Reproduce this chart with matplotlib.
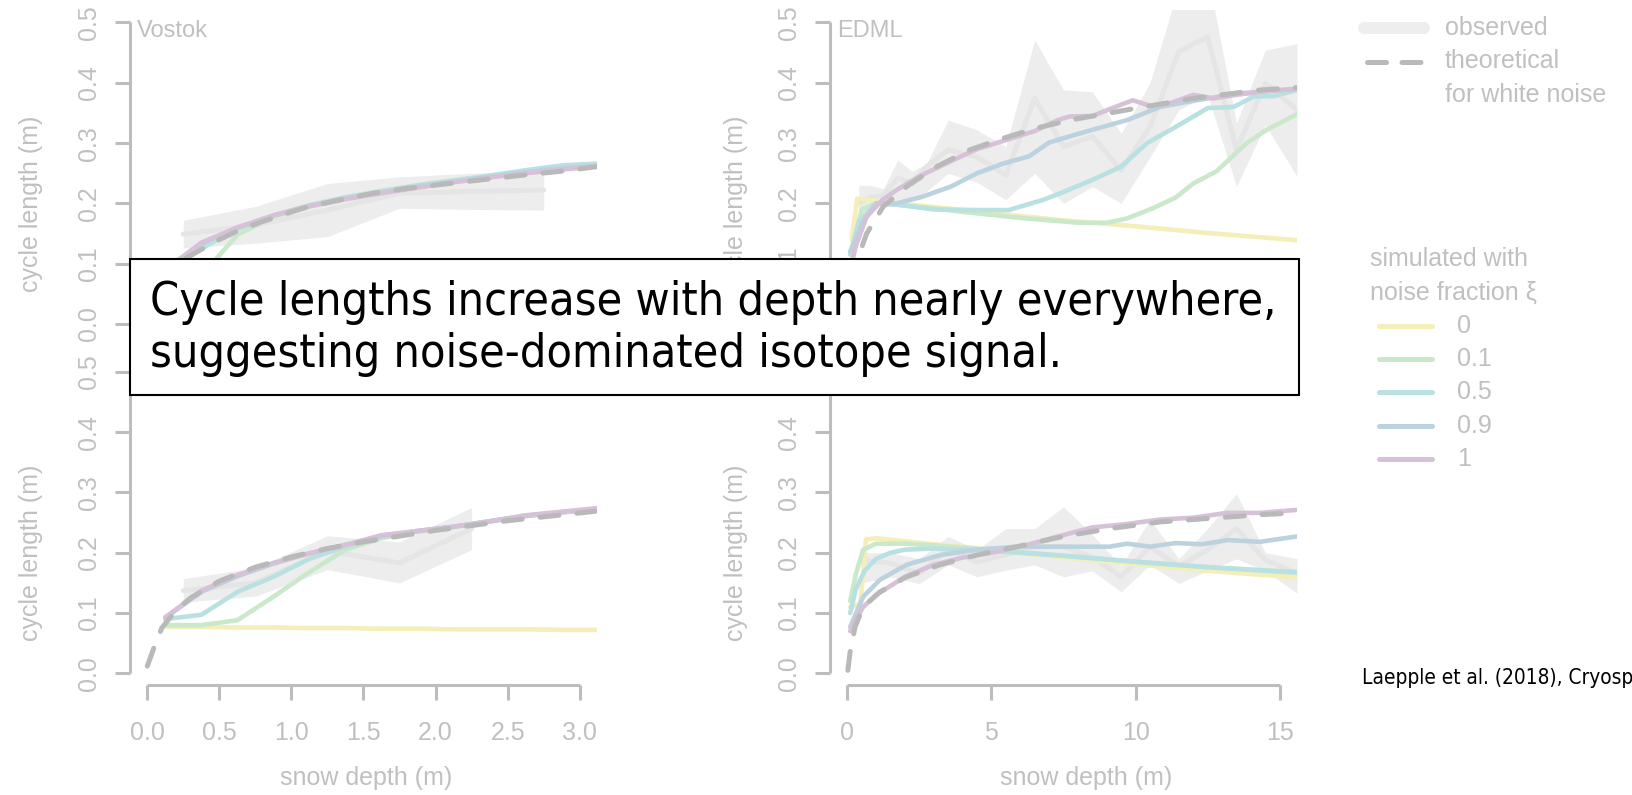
import os
import matplotlib
matplotlib.use("Agg")
import matplotlib.pyplot as plt
from matplotlib import font_manager, transforms
from matplotlib.font_manager import FontProperties
from matplotlib.patches import Rectangle
from matplotlib.lines import Line2D

# ---------------------------------------------------------------- data
noise_fractions = ["0", "0.1", "0.5", "0.9", "1"]

# Vostok, upper panel
vostok_top_obs_depth = [0.25, 0.75, 1.25, 1.75, 2.25, 2.75]
vostok_top_obs_mean = [0.149, 0.164, 0.189, 0.217, 0.220, 0.222]
vostok_top_obs_lo = [0.126, 0.134, 0.145, 0.192, 0.190, 0.189]
vostok_top_obs_hi = [0.172, 0.195, 0.233, 0.244, 0.250, 0.253]
vostok_top_theo_depth = [0.0, 0.05, 0.1, 0.2, 0.34, 0.5, 0.64, 0.8, 1.08, 1.3, 1.57, 1.8, 2.1, 2.35, 2.61, 2.9, 3.12]
vostok_top_theo_len = [0.010, 0.045, 0.072, 0.100, 0.119, 0.140, 0.156, 0.170, 0.192, 0.204, 0.217, 0.225, 0.233, 0.240, 0.247, 0.254, 0.261]
vostok_sim_depth = [0.125, 0.375, 0.625, 0.875, 1.125, 1.375, 1.625, 1.875, 2.125, 2.375, 2.625, 2.875, 3.125]
vostok_top_sim_xi0 = [0.074, 0.074, 0.074, 0.074, 0.073, 0.073, 0.073, 0.073, 0.072, 0.072, 0.072, 0.072, 0.072]
vostok_top_sim_xi01 = [0.072, 0.080, 0.148, 0.178, 0.196, 0.210, 0.221, 0.230, 0.238, 0.246, 0.254, 0.261, 0.265]
vostok_top_sim_xi05 = [0.085, 0.125, 0.158, 0.180, 0.197, 0.210, 0.220, 0.230, 0.238, 0.246, 0.255, 0.263, 0.266]
vostok_top_sim_xi09 = [0.088, 0.133, 0.160, 0.180, 0.196, 0.208, 0.218, 0.228, 0.236, 0.244, 0.252, 0.258, 0.263]
vostok_top_sim_xi1 = [0.090, 0.135, 0.160, 0.180, 0.195, 0.207, 0.217, 0.226, 0.235, 0.243, 0.250, 0.256, 0.262]

# Vostok, lower panel
vostok_bot_obs_depth = [0.25, 0.75, 1.25, 1.75, 2.25]
vostok_bot_obs_mean = [0.137, 0.150, 0.203, 0.183, 0.240]
vostok_bot_obs_lo = [0.118, 0.128, 0.172, 0.150, 0.205]
vostok_bot_obs_hi = [0.157, 0.175, 0.228, 0.218, 0.275]
vostok_bot_theo_depth = [0.0, 0.05, 0.1, 0.2, 0.3, 0.5, 0.75, 1.0, 1.25, 1.5, 2.0, 2.5, 3.12]
vostok_bot_theo_len = [0.012, 0.045, 0.075, 0.105, 0.125, 0.153, 0.176, 0.193, 0.207, 0.218, 0.237, 0.253, 0.269]
vostok_bot_sim_xi0 = [0.077, 0.077, 0.076, 0.076, 0.075, 0.075, 0.074, 0.074, 0.073, 0.073, 0.073, 0.072, 0.072]
vostok_bot_sim_xi01 = [0.080, 0.080, 0.088, 0.127, 0.168, 0.205, 0.224, 0.235, 0.243, 0.252, 0.261, 0.267, 0.272]
vostok_bot_sim_xi05 = [0.090, 0.097, 0.135, 0.160, 0.190, 0.210, 0.226, 0.236, 0.243, 0.252, 0.261, 0.267, 0.272]
vostok_bot_sim_xi09 = [0.092, 0.135, 0.161, 0.182, 0.199, 0.213, 0.228, 0.236, 0.243, 0.252, 0.261, 0.267, 0.273]
vostok_bot_sim_xi1 = [0.093, 0.137, 0.163, 0.183, 0.199, 0.213, 0.229, 0.236, 0.243, 0.252, 0.262, 0.268, 0.274]

# EDML, upper panel
edml_top_obs_depth = [0.4, 0.8, 1.25, 1.75, 2.25, 2.75, 3.5, 4.5, 5.5, 6.5, 7.5, 8.5, 9.5, 10.5, 11.5, 12.5, 13.5, 14.5, 15.6]
edml_top_obs_mean = [0.200, 0.210, 0.213, 0.242, 0.233, 0.261, 0.289, 0.277, 0.247, 0.374, 0.294, 0.311, 0.255, 0.327, 0.452, 0.476, 0.289, 0.399, 0.355]
edml_top_obs_lo = [0.150, 0.185, 0.200, 0.206, 0.206, 0.220, 0.250, 0.235, 0.206, 0.250, 0.200, 0.228, 0.200, 0.277, 0.355, 0.380, 0.228, 0.330, 0.245]
edml_top_obs_hi = [0.230, 0.230, 0.224, 0.272, 0.253, 0.266, 0.338, 0.322, 0.294, 0.471, 0.388, 0.385, 0.316, 0.400, 0.560, 0.580, 0.333, 0.454, 0.465]
edml_top_theo_depth = [0.05, 0.1, 0.3, 0.67, 1.25, 2.06, 3.1, 4.26, 5.41, 6.57, 7.72, 9.69, 12.0, 14.31, 15.6]
edml_top_theo_len = [0.010, 0.040, 0.100, 0.150, 0.195, 0.228, 0.261, 0.289, 0.308, 0.325, 0.338, 0.355, 0.374, 0.388, 0.392]
edml_top_sim_xi0_depth = [0.15, 0.35, 1.0, 3.0, 5.0, 7.5, 10.0, 12.5, 15.6]
edml_top_sim_xi0 = [0.140, 0.208, 0.204, 0.194, 0.184, 0.172, 0.162, 0.151, 0.139]
edml_top_sim_xi01_depth = [0.15, 0.5, 1.0, 2.0, 4.0, 6.0, 8.0, 9.0, 9.7, 10.6, 11.4, 12.0, 12.8, 13.85, 14.55, 15.6]
edml_top_sim_xi01 = [0.120, 0.190, 0.200, 0.197, 0.186, 0.176, 0.168, 0.168, 0.175, 0.192, 0.210, 0.233, 0.253, 0.300, 0.322, 0.348]
edml_top_sim_xi05_depth = [0.1, 0.4, 1.0, 1.7, 3.0, 4.5, 5.6, 6.8, 7.4, 8.5, 9.5, 10.4, 11.4, 12.5, 13.4, 14.1, 14.8, 15.6]
edml_top_sim_xi05 = [0.115, 0.170, 0.200, 0.198, 0.190, 0.189, 0.189, 0.206, 0.217, 0.239, 0.261, 0.300, 0.327, 0.358, 0.360, 0.377, 0.378, 0.388]
edml_top_sim_xi09_depth = [0.1, 0.55, 1.0, 1.7, 2.6, 3.6, 4.5, 5.4, 6.3, 7.0, 7.7, 8.5, 9.7, 10.85, 12.0, 13.5, 15.6]
edml_top_sim_xi09 = [0.120, 0.170, 0.200, 0.200, 0.211, 0.228, 0.250, 0.266, 0.278, 0.301, 0.311, 0.322, 0.338, 0.360, 0.370, 0.382, 0.390]
edml_top_sim_xi1_depth = [0.1, 0.3, 0.67, 1.2, 1.7, 2.5, 3.5, 4.5, 5.5, 6.5, 7.3, 7.7, 8.5, 9.3, 9.9, 10.5, 11.2, 12.0, 12.7, 13.5, 14.3, 15.6]
edml_top_sim_xi1 = [0.090, 0.130, 0.178, 0.205, 0.222, 0.245, 0.268, 0.290, 0.305, 0.320, 0.338, 0.344, 0.345, 0.360, 0.371, 0.362, 0.366, 0.380, 0.374, 0.380, 0.385, 0.390]

# EDML, lower panel
edml_bot_obs_depth = [0.5, 1.5, 2.5, 3.5, 4.5, 5.5, 6.5, 7.5, 8.5, 9.5, 10.5, 11.5, 12.5, 13.5, 14.5, 15.6]
edml_bot_obs_mean = [0.187, 0.183, 0.166, 0.205, 0.185, 0.197, 0.210, 0.210, 0.193, 0.160, 0.210, 0.177, 0.205, 0.240, 0.188, 0.166]
edml_bot_obs_lo = [0.150, 0.160, 0.149, 0.180, 0.160, 0.171, 0.180, 0.160, 0.170, 0.135, 0.180, 0.149, 0.170, 0.190, 0.170, 0.133]
edml_bot_obs_hi = [0.200, 0.200, 0.190, 0.227, 0.205, 0.240, 0.240, 0.276, 0.230, 0.178, 0.255, 0.190, 0.240, 0.298, 0.200, 0.190]
edml_bot_theo_depth = [0.02, 0.09, 0.27, 0.55, 1.13, 2.06, 3.22, 4.49, 5.88, 7.49, 9.11, 10.85, 12.58, 14.31, 15.6]
edml_bot_theo_len = [0.005, 0.033, 0.077, 0.110, 0.135, 0.160, 0.180, 0.196, 0.210, 0.227, 0.240, 0.251, 0.257, 0.263, 0.266]
edml_bot_sim_xi0_depth = [0.1, 0.45, 0.65, 1.0, 3.0, 5.0, 7.5, 10.0, 12.5, 15.6]
edml_bot_sim_xi0 = [0.110, 0.115, 0.222, 0.224, 0.214, 0.205, 0.192, 0.181, 0.170, 0.159]
edml_bot_sim_xi01_depth = [0.1, 0.3, 0.55, 1.0, 2.0, 3.0, 5.0, 7.5, 10.0, 12.5, 15.6]
edml_bot_sim_xi01 = [0.120, 0.165, 0.205, 0.215, 0.215, 0.212, 0.205, 0.195, 0.185, 0.176, 0.168]
edml_bot_sim_xi05_depth = [0.1, 0.3, 0.6, 1.0, 1.5, 2.0, 3.0, 5.0, 7.5, 10.0, 12.5, 15.6]
edml_bot_sim_xi05 = [0.100, 0.140, 0.170, 0.190, 0.200, 0.205, 0.207, 0.203, 0.195, 0.185, 0.176, 0.167]
edml_bot_sim_xi09_depth = [0.1, 0.55, 1.13, 2.06, 3.22, 4.49, 5.88, 7.4, 9.1, 9.7, 10.5, 11.4, 12.3, 13.2, 14.3, 15.6]
edml_bot_sim_xi09 = [0.077, 0.127, 0.155, 0.180, 0.196, 0.205, 0.210, 0.210, 0.210, 0.215, 0.210, 0.216, 0.214, 0.221, 0.218, 0.227]
edml_bot_sim_xi1_depth = [0.1, 0.3, 0.55, 1.0, 2.0, 3.0, 4.0, 5.0, 6.0, 7.4, 8.5, 9.6, 10.85, 12.0, 13.16, 14.3, 15.6]
edml_bot_sim_xi1 = [0.070, 0.090, 0.110, 0.130, 0.160, 0.180, 0.192, 0.200, 0.210, 0.228, 0.242, 0.247, 0.255, 0.258, 0.266, 0.266, 0.271]

vostok_ticks = [0.0, 0.5, 1.0, 1.5, 2.0, 2.5, 3.0]
vostok_ticklabels = ["0.0", "0.5", "1.0", "1.5", "2.0", "2.5", "3.0"]
edml_ticks = [0, 5, 10, 15]
edml_ticklabels = ["0", "5", "10", "15"]
length_ticks = [0.0, 0.1, 0.2, 0.3, 0.4, 0.5]
length_ticklabels = ["0.0", "0.1", "0.2", "0.3", "0.4", "0.5"]

# ---------------------------------------------------------------- style
W, H = 1633, 795
GRAY = "#bdbdbd"
TXT = "#c0c0c0"
BAND = "#ededed"
OBS_LINE = "#e5e5e5"
THEO = "#b9b9b9"
SIM_COLORS = ["#f4eeb8", "#c9e9ca", "#b9e1e1", "#bcd2df", "#d7c1d8"]
SANS = ["Liberation Sans", "DejaVu Sans"]

plt.rcParams["font.family"] = SANS
fig = plt.figure(figsize=(W / 100, H / 100), dpi=100)
fig.patch.set_facecolor("white")


def px_axes(left, top, width, height, **kw):
    return fig.add_axes([left / W, 1 - (top + height) / H, width / W, height / H], **kw)


def style_axes(ax, xlim, xticks, xticklabels, show_xlabels, hidden_ylabels):
    ax.set_xlim(*xlim)
    ax.set_ylim(-0.02, 0.52)
    ax.patch.set_visible(False)
    for s in ("top", "right"):
        ax.spines[s].set_visible(False)
    for s in ("left", "bottom"):
        ax.spines[s].set_color(GRAY)
        ax.spines[s].set_linewidth(2.2)
        ax.spines[s].set_capstyle("butt")
    ax.spines["left"].set_bounds(0, 0.5)
    ax.spines["bottom"].set_bounds(xticks[0], xticks[-1])
    ax.set_xticks(xticks)
    ax.set_xticklabels(xticklabels if show_xlabels else [""] * len(xticks))
    ax.set_yticks(length_ticks)
    ax.set_yticklabels([("" if lab in hidden_ylabels else lab) for lab in length_ticklabels])
    ax.tick_params(direction="out", length=10.8, width=2.2, color=GRAY,
                   labelcolor=TXT, labelsize=18)
    ax.tick_params(axis="x", pad=15)
    ax.tick_params(axis="y", pad=10, labelrotation=90)
    for lab in ax.get_yticklabels():
        lab.set_verticalalignment("center")


def draw_panel(ax, obs, theo, sims):
    d, m, lo, hi = obs
    ax.fill_between(d, lo, hi, color=BAND, lw=0, zorder=1)
    ax.plot(d, m, color=OBS_LINE, lw=3.6, solid_capstyle="round",
            solid_joinstyle="round", zorder=2)
    for (sd, sv), c in zip(sims, SIM_COLORS):
        ax.plot(sd, sv, color=c, lw=3.3, solid_capstyle="round",
                solid_joinstyle="round", zorder=3)
    ax.plot(theo[0], theo[1], color=THEO, lw=3.6, dashes=(3.8, 3.6),
            dash_capstyle="round", zorder=4)


AX_W, AX_H = 467, 325.7
LEFT_X, RIGHT_X = 130, 830
TOP_Y, BOT_Y = 10.4, 359.7

# labels that sit entirely beneath the annotation box are left blank
panels = [
    dict(pos=(LEFT_X, TOP_Y), xlim=(-0.12, 3.12), ticks=vostok_ticks, labels=vostok_ticklabels,
         obs=(vostok_top_obs_depth, vostok_top_obs_mean, vostok_top_obs_lo, vostok_top_obs_hi),
         theo=(vostok_top_theo_depth, vostok_top_theo_len),
         sims=[(vostok_sim_depth, vostok_top_sim_xi0), (vostok_sim_depth, vostok_top_sim_xi01),
               (vostok_sim_depth, vostok_top_sim_xi05), (vostok_sim_depth, vostok_top_sim_xi09),
               (vostok_sim_depth, vostok_top_sim_xi1)],
         title="Vostok", xlab_x=0.505, ylab_x=-0.212, bottom_row=False, hidden=()),
    dict(pos=(RIGHT_X, TOP_Y), xlim=(-0.6, 15.6), ticks=edml_ticks, labels=edml_ticklabels,
         obs=(edml_top_obs_depth, edml_top_obs_mean, edml_top_obs_lo, edml_top_obs_hi),
         theo=(edml_top_theo_depth, edml_top_theo_len),
         sims=[(edml_top_sim_xi0_depth, edml_top_sim_xi0), (edml_top_sim_xi01_depth, edml_top_sim_xi01),
               (edml_top_sim_xi05_depth, edml_top_sim_xi05), (edml_top_sim_xi09_depth, edml_top_sim_xi09),
               (edml_top_sim_xi1_depth, edml_top_sim_xi1)],
         title="EDML", xlab_x=0.549, ylab_x=-0.201, bottom_row=False, hidden=("0.0",)),
    dict(pos=(LEFT_X, BOT_Y), xlim=(-0.12, 3.12), ticks=vostok_ticks, labels=vostok_ticklabels,
         obs=(vostok_bot_obs_depth, vostok_bot_obs_mean, vostok_bot_obs_lo, vostok_bot_obs_hi),
         theo=(vostok_bot_theo_depth, vostok_bot_theo_len),
         sims=[(vostok_sim_depth, vostok_bot_sim_xi0), (vostok_sim_depth, vostok_bot_sim_xi01),
               (vostok_sim_depth, vostok_bot_sim_xi05), (vostok_sim_depth, vostok_bot_sim_xi09),
               (vostok_sim_depth, vostok_bot_sim_xi1)],
         title=None, xlab_x=0.505, ylab_x=-0.212, bottom_row=True, hidden=()),
    dict(pos=(RIGHT_X, BOT_Y), xlim=(-0.6, 15.6), ticks=edml_ticks, labels=edml_ticklabels,
         obs=(edml_bot_obs_depth, edml_bot_obs_mean, edml_bot_obs_lo, edml_bot_obs_hi),
         theo=(edml_bot_theo_depth, edml_bot_theo_len),
         sims=[(edml_bot_sim_xi0_depth, edml_bot_sim_xi0), (edml_bot_sim_xi01_depth, edml_bot_sim_xi01),
               (edml_bot_sim_xi05_depth, edml_bot_sim_xi05), (edml_bot_sim_xi09_depth, edml_bot_sim_xi09),
               (edml_bot_sim_xi1_depth, edml_bot_sim_xi1)],
         title=None, xlab_x=0.549, ylab_x=-0.201, bottom_row=True, hidden=("0.5",)),
]

for p in panels:
    ax = px_axes(p["pos"][0], p["pos"][1], AX_W, AX_H)
    style_axes(ax, p["xlim"], p["ticks"], p["labels"], p["bottom_row"], p["hidden"])
    draw_panel(ax, p["obs"], p["theo"], p["sims"])
    ylab_y = (0.2 + 0.02) / 0.54
    ax.text(p["ylab_x"], ylab_y, "cycle length (m)", rotation=90, ha="center", va="center",
            fontsize=18, color=TXT, transform=ax.transAxes)
    if p["bottom_row"]:
        xlab_y = -(778 - (p["pos"][1] + AX_H)) / AX_H
        ax.text(p["xlab_x"], xlab_y, "snow depth (m)", ha="center", va="center",
                fontsize=18, color=TXT, transform=ax.transAxes)
    if p["title"]:
        tr = transforms.blended_transform_factory(ax.transAxes, ax.transData)
        ax.text(7 / AX_W, 0.504, p["title"], ha="left", va="top", fontsize=17,
                color=TXT, transform=tr)

# ---------------------------------------------------------------- overlay (legend, note, citation)
ov = fig.add_axes([0, 0, 1, 1], zorder=10)
ov.set_xlim(0, W)
ov.set_ylim(H, 0)
ov.axis("off")
ov.patch.set_visible(False)

ov.add_line(Line2D([1364, 1424], [28, 28], color="#eeeeee", lw=8.6, solid_capstyle="round"))
ov.text(1445, 28, "observed", ha="left", va="center", fontsize=18, color=TXT)
ov.add_line(Line2D([1367, 1423], [61.5, 61.5], color=THEO, lw=3.6, dashes=(3.8, 3.1),
                   dash_capstyle="round"))
ov.text(1445, 61.5, "theoretical", ha="left", va="center", fontsize=18, color=TXT)
ov.text(1445, 94.5, "for white noise", ha="left", va="center", fontsize=18, color=TXT)

ov.text(1370, 259.5, "simulated with", ha="left", va="center", fontsize=18, color=TXT)
ov.text(1370, 293, "noise fraction \u03be", ha="left", va="center", fontsize=18, color=TXT)
for i, (lab, c) in enumerate(zip(noise_fractions, SIM_COLORS)):
    yy = 325.7 + i * 33.3
    ov.add_line(Line2D([1379, 1432], [yy, yy], color=c, lw=3.6, solid_capstyle="round"))
    ov.text(1457, yy, lab, ha="left", va="center", fontsize=18, color=TXT)

# font for the annotation text
cond = [f.fname for f in font_manager.fontManager.ttflist
        if os.path.basename(f.fname) == "DejaVuSansCondensed.ttf"]
note_font = FontProperties(fname=cond[0]) if cond else FontProperties(family="DejaVu Sans")
renderer = fig.canvas.get_renderer()


def fitted(text, width_px):
    fp = note_font.copy()
    fp.set_size(40)
    probe = fig.text(0, 0, text, fontproperties=fp)
    w = probe.get_window_extent(renderer=renderer).width
    probe.remove()
    out = note_font.copy()
    out.set_size(40 * width_px / w)
    return out


ov.add_patch(Rectangle((130, 259.3), 1169, 135.7, facecolor="white", edgecolor="black", lw=1.5))
line1 = "Cycle lengths increase with depth nearly everywhere,"
line2 = "suggesting noise-dominated isotope signal."
fp_note = fitted(line1, 1127)
ov.text(150, 315, line1, ha="left", va="baseline", fontproperties=fp_note, color="black")
ov.text(150, 366.7, line2, ha="left", va="baseline", fontproperties=fp_note, color="black")

fp_cite = fitted("Laepple et al. (2018), Cryosp", 271)
ov.text(1361.7, 684.3, "Laepple et al. (2018), Cryosphere", ha="left", va="baseline",
        fontproperties=fp_cite, color="black", clip_on=False)

fig.savefig("out.png", dpi=100, facecolor="white")
